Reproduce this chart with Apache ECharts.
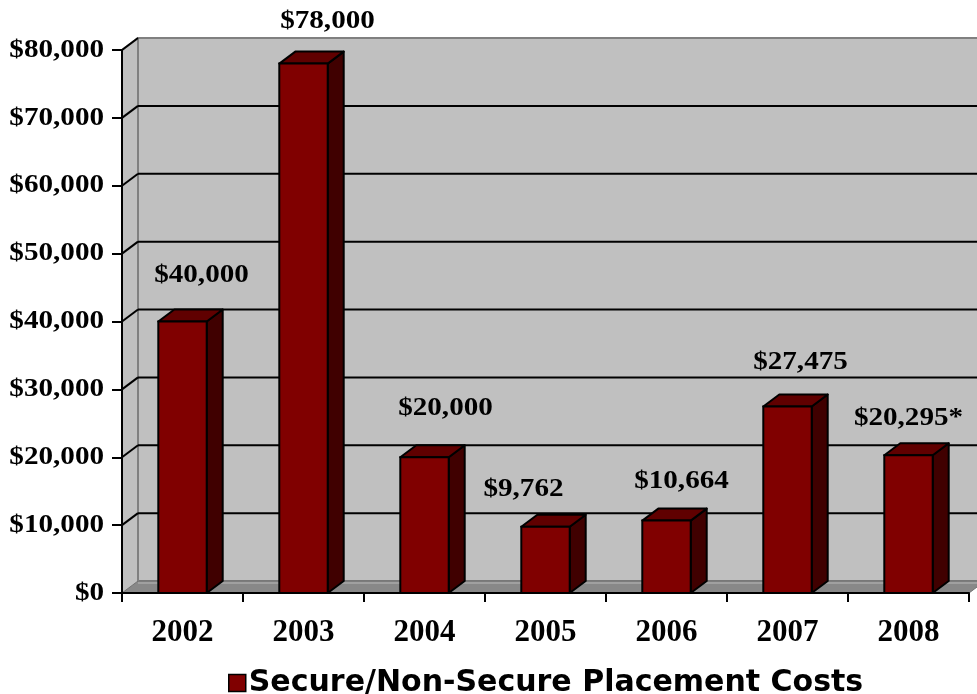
<!DOCTYPE html>
<html>
<head>
<meta charset="utf-8">
<script src="https://cdn.jsdelivr.net/npm/echarts@6/dist/echarts.min.js"></script>
<style>
  html, body { margin: 0; padding: 0; background: #ffffff; }
  #chart { width: 977px; height: 694px; }
</style>
</head>
<body>
<div id="chart"></div>
<script>
// Placement costs by year
const years = ['2002', '2003', '2004', '2005', '2006', '2007', '2008'];
const costs = [40000, 78000, 20000, 9762, 10664, 27475, 20295];
const costNotes = ['', '', '', '', '', '', '*'];
const seriesName = 'Secure/Non-Secure Placement Costs';
const yTicks = [0, 10000, 20000, 30000, 40000, 50000, 60000, 70000, 80000];

// Hand-placed value label nudges [dx, dy] relative to each bar's front top
const labelNudge = [[19, -46], [24, -42], [21, -49], [-22, -37], [15, -39], [13, -44], [0, -37]];

// Depth of the 3D effect
const DX = 16, DY = -12;

const money = v => '$' + v.toLocaleString('en-US');
const serif = '"Liberation Serif", "Times New Roman", serif';

const chart = echarts.init(document.getElementById('chart'), null, { renderer: 'canvas' });

function renderFrame(params, api) {
  const cs = params.coordSys;
  const x = cs.x, y = cs.y, w = cs.width, h = cs.height;
  const children = [];
  // left side wall
  children.push({
    type: 'polygon',
    shape: { points: [[x, y], [x + DX, y + DY], [x + DX, y + h + DY], [x, y + h]] },
    style: { fill: '#c0c0c0', stroke: null }
  });
  // back wall
  children.push({
    type: 'rect',
    shape: { x: x + DX, y: y + DY, width: w + 40, height: h },
    style: { fill: '#c0c0c0', stroke: '#808080', lineWidth: 2 }
  });
  // floor
  children.push({
    type: 'polygon',
    shape: { points: [[x, y + h], [x + DX, y + h + DY], [x + w + DX, y + h + DY], [x + w, y + h]] },
    style: { fill: '#888888', stroke: '#707070', lineWidth: 1 }
  });
  // light rim along the back of the floor
  children.push({
    type: 'line',
    shape: { x1: x + DX, y1: y + h + DY + 2, x2: x + w + DX, y2: y + h + DY + 2 },
    style: { stroke: '#a0a0a0', lineWidth: 2 }
  });
  // side wall top edge
  children.push({
    type: 'line',
    shape: { x1: x, y1: y, x2: x + DX, y2: y + DY },
    style: { stroke: '#808080', lineWidth: 2 }
  });
  // back corner edge
  children.push({
    type: 'line',
    shape: { x1: x + DX, y1: y + DY, x2: x + DX, y2: y + h + DY },
    style: { stroke: '#808080', lineWidth: 2 }
  });
  // gridlines on side and back walls, plus the value tick labels
  yTicks.forEach(v => {
    const gy = api.coord([0, v])[1];
    children.push({
      type: 'text',
      x: x - 18,
      y: gy,
      scaleX: 1.12,
      style: {
        text: money(v),
        fill: '#000',
        font: 'bold 26px ' + serif,
        align: 'right',
        verticalAlign: 'middle'
      }
    });
    if (v === 0) return;
    children.push({
      type: 'line',
      shape: { x1: x, y1: gy, x2: x + DX, y2: gy + DY },
      style: { stroke: '#000', lineWidth: 2 }
    });
    if (v !== yTicks[yTicks.length - 1]) {
      children.push({
        type: 'line',
        shape: { x1: x + DX, y1: gy + DY, x2: x + w + 40, y2: gy + DY },
        style: { stroke: '#000', lineWidth: 2 }
      });
    }
  });
  return { type: 'group', children: children };
}

function renderBar(params, api) {
  const idx = api.value(0);
  const val = api.value(1);
  const top = api.coord([idx, val]);
  const base = api.coord([idx, 0]);
  const bw = api.size([1, 0])[0] * 0.4;
  const l = top[0] - bw / 2;
  const r = l + bw;
  const t = top[1];
  const b = base[1];
  const nudge = labelNudge[params.dataIndex];
  return {
    type: 'group',
    children: [
      {
        type: 'polygon',
        shape: { points: [[r, t], [r + DX, t + DY], [r + DX, b + DY], [r, b]] },
        style: { fill: '#400000', stroke: '#000', lineWidth: 2, lineJoin: 'round' }
      },
      {
        type: 'polygon',
        shape: { points: [[l, t], [l + DX, t + DY], [r + DX, t + DY], [r, t]] },
        style: { fill: '#600000', stroke: '#000', lineWidth: 2, lineJoin: 'round' }
      },
      {
        type: 'rect',
        shape: { x: l, y: t, width: bw, height: b - t },
        style: { fill: '#800000', stroke: '#000', lineWidth: 2 }
      },
      {
        type: 'text',
        x: top[0] + nudge[0],
        y: t + nudge[1],
        scaleX: 1.12,
        style: {
          text: money(val) + costNotes[params.dataIndex],
          fill: '#000',
          font: 'bold 26px ' + serif,
          align: 'center',
          verticalAlign: 'middle'
        }
      }
    ]
  };
}

chart.setOption({
  animation: false,
  backgroundColor: '#ffffff',
  grid: { left: 122, right: 8, top: 50, bottom: 101 },
  legend: {
    data: [seriesName],
    left: 223,
    top: 663,
    icon: 'rect',
    itemWidth: 17,
    itemHeight: 17,
    itemGap: 4,
    itemStyle: { color: '#800000', borderColor: '#000', borderWidth: 1.5 },
    textStyle: { fontFamily: '"DejaVu Sans", "Liberation Sans", Arial, sans-serif', fontWeight: 'bold', fontSize: 30, color: '#000', padding: [0, 0, 0, -2] }
  },
  xAxis: {
    type: 'category',
    data: years,
    boundaryGap: true,
    axisLine: { show: true, lineStyle: { color: '#000', width: 2 } },
    axisTick: { show: true, length: 9, lineStyle: { color: '#000', width: 2 } },
    axisLabel: { margin: 24, fontFamily: serif, fontWeight: 'bold', fontSize: 31, color: '#000' },
    splitLine: { show: false },
    z: 10
  },
  yAxis: {
    type: 'value',
    min: 0,
    max: 80000,
    interval: 10000,
    axisLine: { show: true, lineStyle: { color: '#000', width: 2 } },
    axisTick: { show: true, length: 10, lineStyle: { color: '#000', width: 2 } },
    axisLabel: { show: false },
    splitLine: { show: false },
    z: 10
  },
  series: [
    {
      type: 'custom',
      name: 'frame',
      renderItem: renderFrame,
      data: [[0, 0]],
      silent: true,
      z: 1,
      clip: false
    },
    {
      type: 'custom',
      name: seriesName,
      renderItem: renderBar,
      itemStyle: { color: '#800000' },
      data: costs.map((v, i) => [i, v]),
      encode: { x: 0, y: 1 },
      z: 5,
      clip: false
    }
  ]
});
</script>
</body>
</html>
